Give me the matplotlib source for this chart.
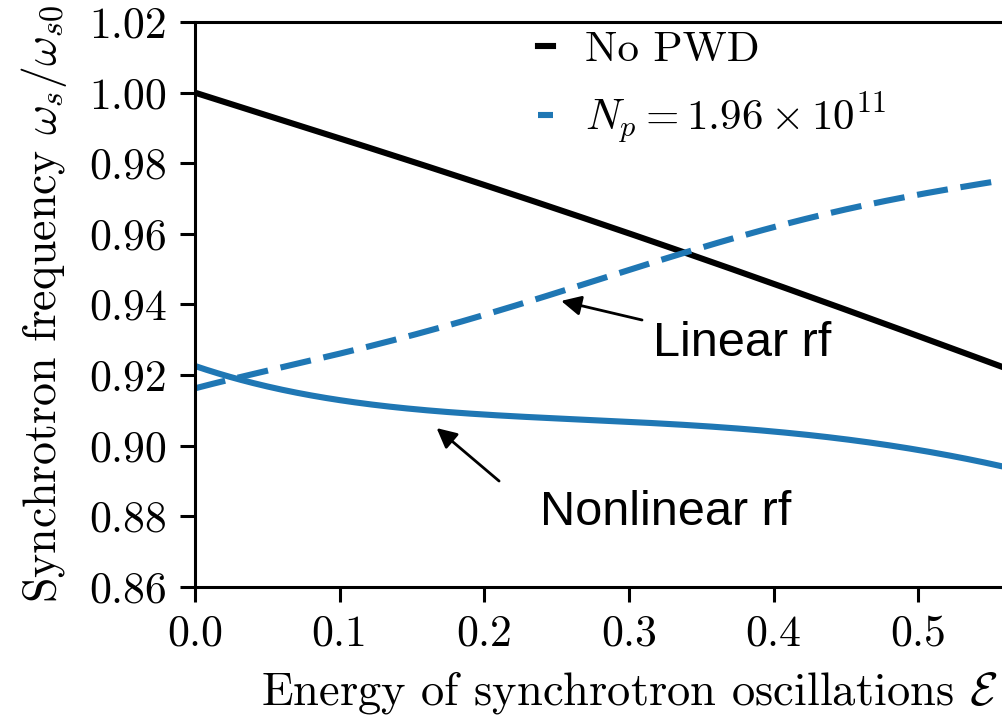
import numpy as np
import matplotlib
matplotlib.use("Agg")
import matplotlib.pyplot as plt

plt.rcParams['font.family'] = 'serif'
plt.rcParams['font.serif'] = ['cmr10']
plt.rcParams['mathtext.fontset'] = 'cm'
plt.rcParams['axes.formatter.use_mathtext'] = True

# energy grid and curves
energy = [0.0, 0.05, 0.1, 0.15, 0.2, 0.25, 0.3, 0.35, 0.4, 0.45, 0.5, 0.558, 0.6]
no_pwd = [1.000, 0.9935, 0.987, 0.9805, 0.974, 0.967, 0.960, 0.953, 0.946, 0.9385, 0.931, 0.9223, 0.916]
linear_rf = [0.9163, 0.921, 0.9265, 0.931, 0.937, 0.9435, 0.9497, 0.956, 0.962, 0.967, 0.971, 0.9752, 0.978]
nonlinear_rf = [0.9225, 0.917, 0.9129, 0.910, 0.909, 0.908, 0.9067, 0.9055, 0.9039, 0.9018, 0.899, 0.894, 0.890]

xticks = [0.0, 0.1, 0.2, 0.3, 0.4, 0.5]
yticks = [0.86, 0.88, 0.90, 0.92, 0.94, 0.96, 0.98, 1.00, 1.02]

# smooth the read-off points for drawing
xs = np.linspace(0, 0.6, 300)
def smooth(y):
    c = np.polyfit(energy, y, 5)
    return np.polyval(c, xs)

fig = plt.figure(figsize=(10.02, 7.18), dpi=100)
# the axes runs past the right edge of the figure, as in the cropped original
ax = fig.add_axes([0.1946, 0.1825, 0.8663, 0.7869])

ax.plot(xs, smooth(no_pwd), color='black', lw=4.4, label='No PWD')
ax.plot(xs, smooth(linear_rf), color='#1f77b4', lw=4.4, dashes=(5.1, 2.1),
        label=r'$N_p = 1.96\times10^{11}$')
ax.plot(xs, smooth(nonlinear_rf), color='#1f77b4', lw=4.4)

arrow = dict(arrowstyle='-|>', color='black', lw=2,
             mutation_scale=30, shrinkA=0, shrinkB=0)
ax.text(0.3167, 0.929, 'Linear rf', fontsize=35, family='Liberation Sans',
        va='center', ha='left')
ax.annotate('', xy=(0.2531, 0.941), xytext=(0.309, 0.9356), arrowprops=arrow)
ax.text(0.2386, 0.8812, 'Nonlinear rf', fontsize=35, family='Liberation Sans',
        va='center', ha='left')
ax.annotate('', xy=(0.167, 0.905), xytext=(0.2102, 0.890), arrowprops=arrow)

ax.set_xlim(0, 0.6)
ax.set_ylim(0.86, 1.02)
ax.set_xticks(xticks)
ax.set_yticks(yticks)
ax.set_xticklabels(['%.1f' % t for t in xticks])
ax.set_yticklabels(['%.2f' % t for t in yticks])
ax.tick_params(labelsize=31.5, width=2.2, length=11, direction='out', pad=9)
for s in ['left', 'bottom', 'top', 'right']:
    ax.spines[s].set_linewidth(2.2)

ax.set_xlabel(r'Energy of synchrotron oscillations $\mathcal{E}$', fontsize=33.5,
              labelpad=10)
ax.set_ylabel(r'Synchrotron frequency $\omega_s/\omega_{s0}$', fontsize=33,
              labelpad=15)

ax.legend(loc='upper left', frameon=False, fontsize=31, handlelength=0.35,
          handletextpad=0.75, labelspacing=0.5, borderaxespad=0.0,
          bbox_to_anchor=(0.375, 1.015))

fig.savefig('out.png', dpi=100)
